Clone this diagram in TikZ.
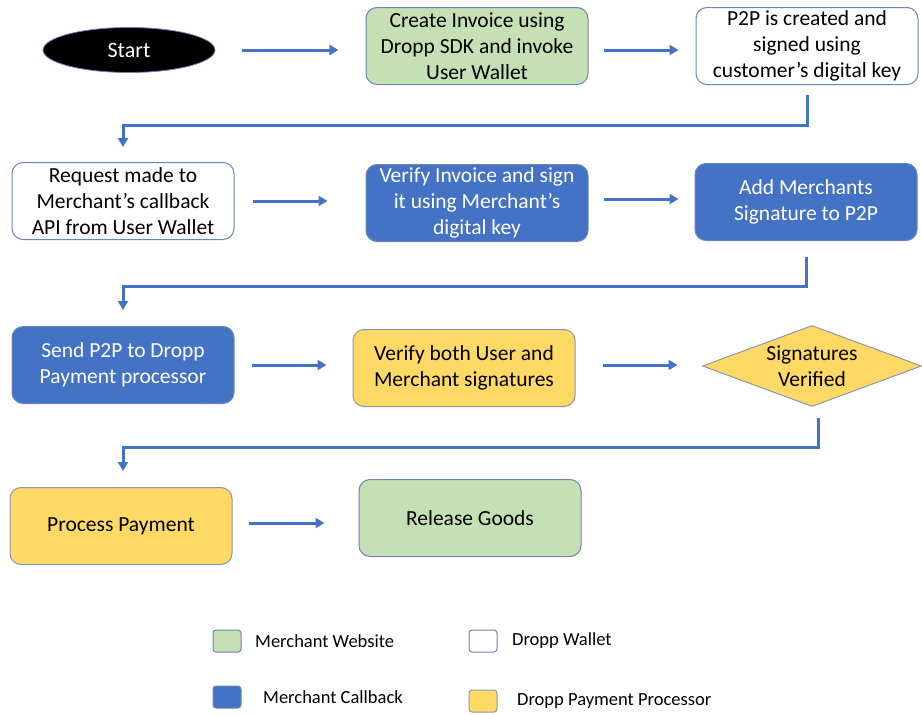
\documentclass[tikz,border=0pt]{standalone}
\usepackage{fontspec}
\setmainfont{Carlito}
\usetikzlibrary{arrows.meta,shapes.geometric}
\definecolor{cgreen}{HTML}{C5E0B4}
\definecolor{cblue}{HTML}{4472C4}
\definecolor{cyellow}{HTML}{FFD966}
\definecolor{cedge}{HTML}{6A86B8}
\definecolor{cyedge}{HTML}{8E97A6}
\tikzset{
  box/.style={draw=cedge, line width=1pt, rounded corners=11pt, align=center,
    minimum width=222pt, minimum height=77pt, inner sep=0pt,
    font=\fontsize{21.5}{26}\selectfont},
  greenbox/.style={box, fill=cgreen},
  whitebox/.style={box, fill=white},
  bluebox/.style={box, fill=cblue, text=white},
  yellowbox/.style={box, fill=cyellow, draw=cyedge},
  flow/.style={draw=cblue, line width=3pt, -{Triangle[length=9pt,width=10pt]}},
  legbox/.style={draw=cedge, line width=1pt, rounded corners=3pt, minimum width=28pt, minimum height=22pt, inner sep=0pt},
  legtext/.style={anchor=west, font=\fontsize{18.5}{20}\selectfont, inner sep=0pt}
}
\begin{document}
\begin{tikzpicture}[x=1pt,y=-1pt]
\useasboundingbox (0,0) rectangle (922,715);
% row 1
\node[ellipse, fill=black, draw=cedge, line width=0.8pt, minimum width=172pt, minimum height=45pt, inner sep=0pt, text=white, font=\fontsize{22}{24}\selectfont] (start) at (129,50) {Start};
\node[greenbox] (create) at (477,46) {Create Invoice using\\Dropp SDK and invoke\\User Wallet};
\node[whitebox] (p2p) at (807,46) {P2P is created and\\signed using\\customer’s digital key};
% row 2
\node[whitebox] (req) at (123,201) {Request made to\\Merchant’s callback\\API from User Wallet};
\node[bluebox] (verinv) at (477,203) {Verify Invoice and sign\\it using Merchant’s\\digital key};
\node[bluebox] (addsig) at (806,202) {Add Merchants\\Signature to P2P};
% row 3
\node[bluebox] (send) at (123,365) {Send P2P to Dropp\\Payment processor};
\node[yellowbox] (verboth) at (464,368) {Verify both User and\\Merchant signatures};
\node[diamond, fill=cyellow, draw=cyedge, line width=1pt, minimum width=219pt, minimum height=81pt, inner sep=0pt] (sigver) at (812,366) {};
\node[align=center, font=\fontsize{21.5}{26}\selectfont, inner sep=0pt] (sigtext) at (sigver.center) {Signatures\\Verified};
% row 4
\node[yellowbox] (proc) at (121,526) {Process Payment};
\node[greenbox] (release) at (470,518) {Release Goods};
% straight arrows
\draw[flow] (start.east) ++(27,0) -- ++(96,0);
\draw[flow] (create.east) ++(15,4) -- ++(75,0);
\draw[flow] (req.east) ++(18,0) -- ++(75,0);
\draw[flow] (verinv.east) ++(15,-4) -- ++(75,0);
\draw[flow] (send.east) ++(17,0) -- ++(75,0);
\draw[flow] (verboth.east) ++(27,-3) -- ++(75,0);
\draw[flow] (proc.east) ++(16,-3) -- ++(76,0);
% elbow connectors
\draw[flow] ([yshift=-10pt]p2p.south) -- ++(0,30) -| ([yshift=15pt]req.north);
\draw[flow] ([yshift=-16pt]addsig.south) -- ++(0,29) -| ([yshift=16pt]send.north);
\draw[flow] ([xshift=6pt,yshift=-11pt]sigver.south) -- ++(0,29) -| ([xshift=2pt,yshift=16pt]proc.north);
% legend
\node[legbox, fill=cgreen] (lg1) at (227,641) {};
\node[legtext] (lt1) at (255,641) {Merchant Website};
\node[legbox, fill=white] (lg2) at (483,641) {};
\node[legtext] (lt2) at (512,641) {Dropp Wallet};
\node[legbox, fill=cblue] (lg3) at (227,697) {};
\node[legtext] (lt3) at (263,697) {Merchant Callback};
\node[legbox, fill=cyellow, draw=cyedge] (lg4) at (483,701) {};
\node[legtext] (lt4) at (517,701) {Dropp Payment Processor};
\end{tikzpicture}
\end{document}
